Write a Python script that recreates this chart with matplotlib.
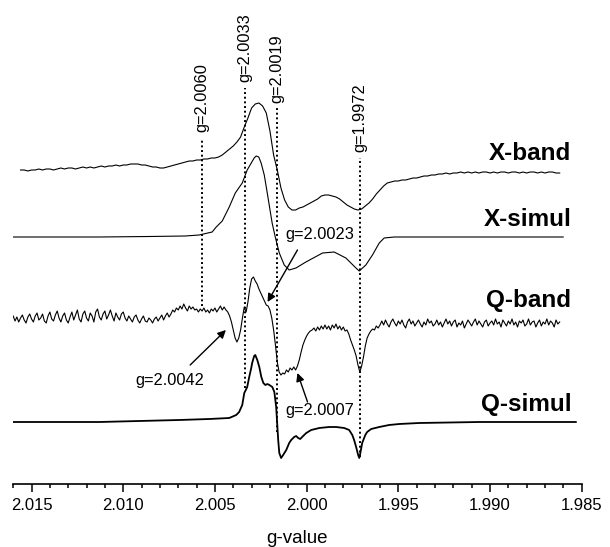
import numpy as np
import matplotlib.pyplot as plt
from matplotlib.ticker import MultipleLocator, FormatStrFormatter

plt.rcParams['font.family'] = ['Liberation Sans', 'DejaVu Sans']

# measured X-band spectrum, one point every 0.0002 in g (2.0156 -> 1.9862)
xband = [0, 0, -1, 0, 0, 1, 0, 1, 1, 0, 1, 2, 1, 2, 2, 1, 2, 3, 2, 3,
         2, 3, 4, 3, 4, 4, 5, 4, 5, 5, 6, 6, 6, 5, 5, 4, 3, 3, 2, 2,
         3, 4, 5, 6, 7, 8, 9, 9, 10, 10, 11, 11, 12, 12, 13, 15, 18, 21, 24, 28,
         33, 43, 52, 62, 66, 67, 64, 57, 39, 15, 0, -18, -30, -37, -40, -40, -38, -37, -35, -33,
         -31, -29, -26, -25, -25, -26, -27, -29, -32, -35, -37, -39, -40, -39, -36, -33, -29, -24, -20, -16,
         -13, -12, -11, -11, -10, -10, -9, -8, -8, -7, -6, -6, -5, -5, -4, -4, -3, -4, -3, -3,
         -2, -3, -2, -3, -2, -3, -2, -2, -3, -2, -3, -2, -2, -3, -2, -2, -3, -2, -3, -2,
         -2, -3, -2, -3, -2, -2, -3, -3]

# measured Q-band spectrum, one point every 0.0001 in g (2.0160 -> 1.9862)
qband = [2, -3, 1, -4, 0, 3, -2, -5, 1, 4, -1, -4, 2, 5, -2, 0, 4, -3, -5, 2,
         6, -1, -3, 3, 7, 0, -4, 2, 5, -2, -5, 1, 6, -2, 3, 8, -1, -4, 4, 7,
         0, -3, 5, 2, -4, 6, 9, 1, -2, 4, 7, -1, 3, 8, 2, -3, 5, 1, -2, 4,
         6, 0, -3, 2, -1, -4, 1, 3, -2, -5, -1, 2, -3, -4, 0, -2, -5, -1, 1, -3,
         0, 3, -2, 2, 5, 1, 4, 8, 6, 10, 8, 12, 9, 14, 10, 7, 12, 9, 11, 8,
         9, 6, 9, 7, 10, 6, 8, 5, 9, 7, 10, 6, 9, 12, 8, 11, 8, 6, 2, -4,
         -12, -20, -24, -20, -12, 0, 11, 6, 16, 30, 39, 41, 37, 34, 29, 25, 21, 17, 13, 12,
         8, 0, -12, -27, -44, -54, -57, -55, -56, -52, -54, -50, -52, -49, -52, -48, -42, -34, -27, -22,
         -18, -15, -13, -12, -10, -13, -9, -12, -8, -11, -7, -11, -8, -12, -7, -10, -6, -11, -8, -12,
         -9, -13, -12, -16, -22, -27, -32, -38, -47, -54, -48, -39, -28, -20, -16, -13, -11, -12, -8, -10,
         -7, -3, -7, -2, -6, -9, -4, -1, -5, -8, -3, -6, -2, -7, -10, -4, -1, -6, -3, -8,
         -5, -2, -6, -9, -4, -7, -1, -5, -3, -8, -6, -2, -7, -4, -9, -5, -1, -6, -3, -8,
         -4, -2, -9, -5, -7, -3, -10, -6, -2, -5, -8, -4, -1, -7, -3, -6, -9, -4, -2, -8,
         -5, -3, -7, -1, -6, -4, -9, -2, -5, -8, -3, -6, -1, -7, -4, -9, -3, -5, -2, -8,
         -6, -1, -7, -4, -3, -9, -5, -2, -8, -4, -6, -1, -7, -3, -5, -9, -2, -6, -4]

# simulated spectra
xsim_g = [2.01604, 2.01131, 2.00858, 2.00662, 2.00586, 2.00515, 2.00493, 2.00460, 2.00422, 2.00389,
          2.00351, 2.00324, 2.00302, 2.00286, 2.00275, 2.00261, 2.00248, 2.00231, 2.00220, 2.00204,
          2.00188, 2.00171, 2.00160, 2.00149, 2.00122, 2.00095, 2.00058, 2.00004, 1.99913, 1.99850,
          1.99786, 1.99731, 1.99713, 1.99677, 1.99641, 1.99604, 1.99577, 1.99522, 1.99386, 1.98601]
xsim = [0, 0, 0.5, 1, 2, 5, 10, 16, 30, 44, 54, 67, 74, 79, 81, 80, 74, 62, 50, 32,
        14, 0, -8, -16, -28, -33, -31, -25, -16, -15, -21, -31, -34, -28, -18, -6, -1, 0, 0, 0]

qsim_g = [2.01602, 2.01131, 2.00695, 2.00531, 2.00422, 2.00384, 2.00368, 2.00351, 2.00340, 2.00329,
          2.00324, 2.00313, 2.00302, 2.00297, 2.00286, 2.00280, 2.00269, 2.00258, 2.00247, 2.00236,
          2.00225, 2.00214, 2.00203, 2.00187, 2.00176, 2.00166, 2.00160, 2.00155, 2.00149, 2.00139,
          2.00128, 2.00111, 2.00095, 2.00084, 2.00068, 2.00057, 2.00046, 2.00035, 2.00019, 2.00002,
          1.99975, 1.99931, 1.99877, 1.99839, 1.99795, 1.99768, 1.99751, 1.99741, 1.99730, 1.99719,
          1.99713, 1.99708, 1.99697, 1.99680, 1.99670, 1.99648, 1.99604, 1.99550, 1.99495, 1.99386,
          1.99059, 1.98532]
qsim = [0, 0, 2, 3, 4, 7, 10, 17, 29, 33, 35, 45, 54, 59, 66, 67, 62, 55, 45, 39,
        37, 38, 37, 35, 30, 15, -3, -18, -31, -36, -33, -28, -21, -18, -15, -14, -16, -17, -14, -11,
        -8, -6, -5, -5, -6, -8, -13, -18, -25, -33, -36, -32, -21, -13, -10, -7, -5, -3, -2, -1,
        0, 0]

names = ['X-band', 'X-simul', 'Q-band', 'Q-simul']

# dotted guide lines (where they sit in the figure) and their labels
guide_g = [2.0057, 2.00335, 2.0016, 1.9971]
guide_text = ['g=2.0060', 'g=2.0033', 'g=2.0019', 'g=1.9972']

xband_g = np.linspace(2.0156, 1.9862, len(xband))
qband_g = np.linspace(2.0160, 1.9862, len(qband))

fig = plt.figure(figsize=(6.1, 5.47), dpi=100)
ax = fig.add_axes([13.2 / 610, 63 / 547, 568.5 / 610, 484 / 547])

offsets = [314, 247, 166, 62]
ax.plot(xband_g, np.array(xband) + offsets[0], color='black', lw=0.8)
ax.plot(xsim_g, np.array(xsim) + offsets[1], color='black', lw=0.8)
ax.plot(qband_g, np.array(qband) + offsets[2], color='black', lw=0.8)
ax.plot(qsim_g, np.array(qsim) + offsets[3], color='black', lw=1.3)

# guide lines
line_lo = [178, 96, 52, 27]
line_hi = [346, 396, 376, 326]
text_y = [352, 402, 381, 332]
for g, t, lo, hi, ty in zip(guide_g, guide_text, line_lo, line_hi, text_y):
    ax.vlines(g, lo, hi, colors='black', linestyles=(0, (1, 1.4)), lw=1.4)
    ax.text(g, ty, t, rotation=90, ha='center', va='bottom', fontsize=11.8)

# trace names
name_y = [330, 265, 183, 79]
for n, y in zip(names, name_y):
    ax.text(1.98557, y, n, ha='right', va='center', fontsize=17.5, fontweight='bold')

# arrows
arw = dict(arrowstyle='-|>', color='black', lw=1.0, mutation_scale=12, shrinkA=0, shrinkB=0)
ax.text(1.99926, 249, 'g=2.0023', ha='center', va='center', fontsize=11.8)
ax.annotate('', xy=(2.00213, 182), xytext=(2.00050, 234), arrowprops=arw)
ax.text(2.00744, 104, 'g=2.0042', ha='center', va='center', fontsize=11.8)
ax.annotate('', xy=(2.00440, 154), xytext=(2.00635, 119), arrowprops=arw)
ax.text(1.99926, 74, 'g=2.0007', ha='center', va='center', fontsize=11.8)
ax.annotate('', xy=(2.00050, 111), xytext=(1.99995, 82), arrowprops=arw)

ax.set_xlim(2.016, 1.985)
ax.set_ylim(0, 484)
ax.xaxis.set_major_locator(MultipleLocator(0.005))
ax.xaxis.set_minor_locator(MultipleLocator(0.001))
ax.xaxis.set_major_formatter(FormatStrFormatter('%.3f'))
ax.tick_params(axis='x', which='major', direction='out', length=6, width=1.1, labelsize=12, pad=4)
ax.tick_params(axis='x', which='minor', direction='out', length=3, width=1.1)
ax.set_yticks([])
for s in ['top', 'left', 'right']:
    ax.spines[s].set_visible(False)
ax.spines['bottom'].set_linewidth(1.2)
ax.set_xlabel('g-value', fontsize=13.5, labelpad=12)

fig.savefig('out.png', dpi=100)
